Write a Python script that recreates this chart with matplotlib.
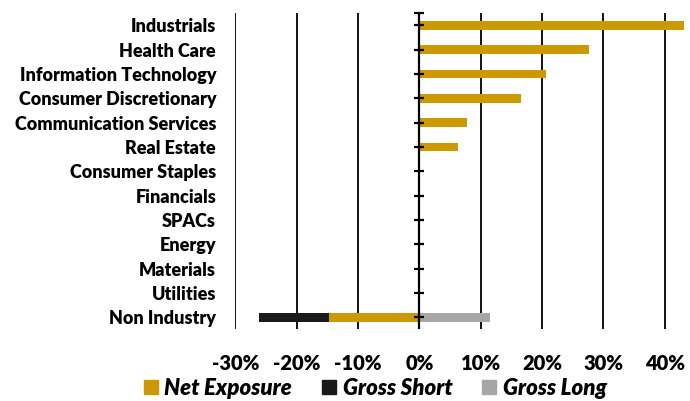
"""Net / gross exposure by industry, horizontal bar chart."""
import matplotlib
matplotlib.use("Agg")
import matplotlib.pyplot as plt
from matplotlib.patches import Patch
from matplotlib.ticker import FuncFormatter

# Data (percent of NAV)
categories = [
    "Industrials", "Health Care", "Information Technology", "Consumer Discretionary",
    "Communication Services", "Real Estate", "Consumer Staples", "Financials",
    "SPACs", "Energy", "Materials", "Utilities", "Non Industry",
]
net_exposure = [43.2, 27.6, 20.6, 16.5, 7.8, 6.3, 0, 0, 0, 0, 0, 0, -14.7]
gross_short = [0, 0, 0, 0, 0, 0, 0, 0, 0, 0, 0, 0, -26.2]
gross_long = [0, 0, 0, 0, 0, 0, 0, 0, 0, 0, 0, 0, 11.5]
x_ticks = [-30, -20, -10, 0, 10, 20, 30, 40]

GOLD = "#CC9900"
DARK = "#1A1A1A"
GREY = "#A6A6A6"
FONT = ["Lato", "DejaVu Sans"]
WEIGHT = "heavy"

plt.rcParams["font.family"] = FONT

fig = plt.figure(figsize=(6.9, 4.01), dpi=100)
ax = fig.add_axes([0.3413, 0.1788, 0.6515, 0.788])

pos = list(range(len(categories)))
h = 0.36
ax.barh(pos, gross_short, height=h, color=DARK, zorder=2)
ax.barh(pos, gross_long, height=h, color=GREY, zorder=2)
ax.barh(pos, net_exposure, height=h, color=GOLD, zorder=3)

ax.set_xlim(-30, 43.3)
ax.set_ylim(len(categories) - 0.5, -0.5)

# vertical gridlines
ax.set_xticks(x_ticks)
ax.xaxis.set_major_formatter(FuncFormatter(lambda v, _: f"{v:.0f}%"))
ax.grid(axis="x", color="black", linewidth=1.3, zorder=1)
ax.tick_params(axis="x", length=0, pad=18, labelsize=14.5)
for lbl in ax.get_xticklabels():
    lbl.set_fontweight(WEIGHT)

# category axis at 0 with crossing tick marks
ax.axvline(0, color="black", linewidth=1.6, zorder=4)
tick_y = [-0.5] + pos
ax.plot([0] * len(tick_y), tick_y, linestyle="none", marker="_",
        markersize=7.5, markeredgewidth=1.6, color="black", zorder=4,
        clip_on=False)

ax.set_yticks(pos)
ax.set_yticklabels(categories, fontweight=WEIGHT, fontsize=13.0)
ax.tick_params(axis="y", length=0, pad=14)

for s in ax.spines.values():
    s.set_visible(False)

handles = [Patch(color=GOLD, label="Net Exposure"),
           Patch(color=DARK, label="Gross Short"),
           Patch(color=GREY, label="Gross Long")]
fig.legend(handles=handles, loc="center", bbox_to_anchor=(0.544, 0.032), ncol=3,
           frameon=False, handlelength=0.62, handleheight=0.62,
           handletextpad=0.3, columnspacing=1.35, borderpad=0.1,
           prop={"family": FONT, "weight": WEIGHT, "style": "italic", "size": 16})

fig.savefig("out.png", dpi=100)
